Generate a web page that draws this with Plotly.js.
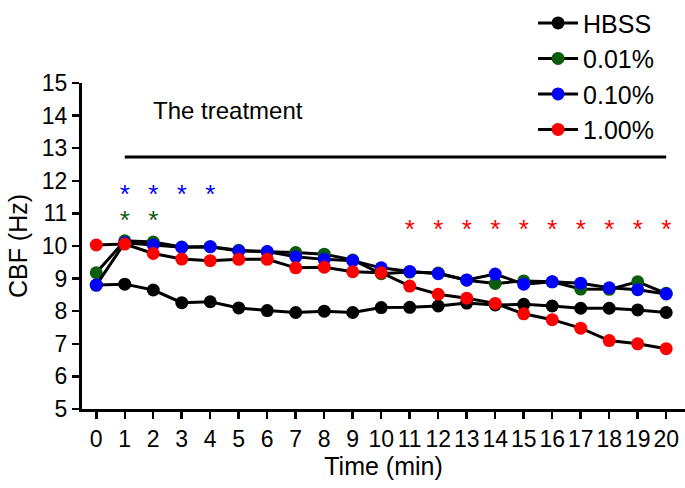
<!DOCTYPE html>
<html>
<head>
<meta charset="utf-8">
<script src="https://cdn.plot.ly/plotly-3.0.1.min.js"></script>
<style>
  html, body { margin: 0; padding: 0; background: #fff; }
  #plot { width: 685px; height: 488px; }
</style>
</head>
<body>
<div id="plot"></div>
<script>
// time points (min)
var time = [0, 1, 2, 3, 4, 5, 6, 7, 8, 9, 10, 11, 12, 13, 14, 15, 16, 17, 18, 19, 20];

// CBF (Hz)
var hbss = [8.80, 8.83, 8.65, 8.26, 8.29, 8.10, 8.02, 7.96, 8.00, 7.96, 8.11, 8.12, 8.16, 8.25, 8.19, 8.21, 8.16, 8.09, 8.09, 8.04, 7.96];
var p001 = [9.18, 10.16, 10.12, 9.97, 9.98, 9.87, 9.82, 9.80, 9.75, 9.57, 9.15, 9.20, 9.17, 8.95, 8.85, 8.93, 8.90, 8.68, 8.67, 8.90, 8.55];
var p010 = [8.80, 10.10, 10.03, 9.96, 9.98, 9.85, 9.83, 9.67, 9.59, 9.55, 9.33, 9.22, 9.15, 8.96, 9.14, 8.83, 8.90, 8.86, 8.72, 8.66, 8.53];
var p100 = [10.03, 10.06, 9.77, 9.60, 9.55, 9.59, 9.59, 9.33, 9.35, 9.21, 9.18, 8.77, 8.52, 8.40, 8.24, 7.92, 7.74, 7.48, 7.10, 7.00, 6.85];

// significance marks
var starBlueX = [1, 2, 3, 4];
var starGreenX = [1, 2];
var starRedX = [11, 12, 13, 14, 15, 16, 17, 18, 19, 20];

var names = ['HBSS', '0.01%', '0.10%', '1.00%'];
var colors = ['#000000', '#0d5c0d', '#0000ff', '#ff0000'];
var series = [hbss, p001, p010, p100];

var data = [];
for (var i = 0; i < series.length; i++) {
  data.push({
    x: time,
    y: series[i],
    name: names[i],
    type: 'scatter',
    mode: 'lines+markers',
    line: {color: '#000', width: 3},
    marker: {color: colors[i], size: 13},
    cliponaxis: false,
    legendgroup: 'g' + i
  });
}

function stars(xs, yLevel, color) {
  return {
    x: xs,
    y: xs.map(function () { return yLevel; }),
    type: 'scatter',
    mode: 'text',
    text: xs.map(function () { return '*'; }),
    textfont: {color: color, size: 26, family: 'Liberation Sans, Arial, sans-serif'},
    hoverinfo: 'skip',
    showlegend: false,
    cliponaxis: false
  };
}
data.push(stars(starBlueX, 11.51, '#0000ff'));
data.push(stars(starGreenX, 10.71, '#0d5c0d'));
data.push(stars(starRedX, 10.43, '#ff0000'));

var layout = {
  width: 685,
  height: 488,
  margin: {l: 82, r: 0, t: 83, b: 79},
  paper_bgcolor: '#fff',
  plot_bgcolor: '#fff',
  font: {family: 'Liberation Sans, Arial, sans-serif', color: '#000'},
  showlegend: true,
  legend: {
    x: 0.748, xanchor: 'left',
    y: 1.254, yanchor: 'top',
    font: {size: 25},
    itemwidth: 40,
    tracegroupgap: 0,
    traceorder: 'grouped',
    bgcolor: 'rgba(0,0,0,0)'
  },
  xaxis: {
    range: [-0.5, 20.66],
    tickvals: time,
    ticktext: time.map(String),
    tickangle: 0,
    automargin: false,
    showline: true, linewidth: 3, linecolor: '#000',
    ticks: 'outside', ticklen: 7, tickwidth: 2.5, tickcolor: '#000',
    tickfont: {size: 23},
    showgrid: false, zeroline: false,
    title: {text: 'Time (min)', font: {size: 25}, standoff: 6}
  },
  yaxis: {
    range: [5, 15],
    dtick: 1,
    automargin: false,
    showline: true, linewidth: 3, linecolor: '#000',
    ticks: 'outside', ticklen: 7, tickwidth: 2.5, tickcolor: '#000',
    tickfont: {size: 23},
    showgrid: false, zeroline: false,
    title: {text: 'CBF (Hz)', font: {size: 25}, standoff: 8}
  },
  shapes: [{
    type: 'line', xref: 'x', yref: 'y',
    x0: 1, x1: 20, y0: 12.73, y1: 12.73,
    line: {color: '#000', width: 3}
  }],
  annotations: [
    {text: 'The treatment', xref: 'x', yref: 'y', x: 4.63, y: 14.17,
     showarrow: false, font: {size: 24}},
    {text: 'n=7', xref: 'x', yref: 'y', x: 1.23, y: 16.07,
     showarrow: false, font: {size: 22}}
  ]
};

Plotly.newPlot('plot', data, layout, {displayModeBar: false, staticPlot: true});
</script>
</body>
</html>
